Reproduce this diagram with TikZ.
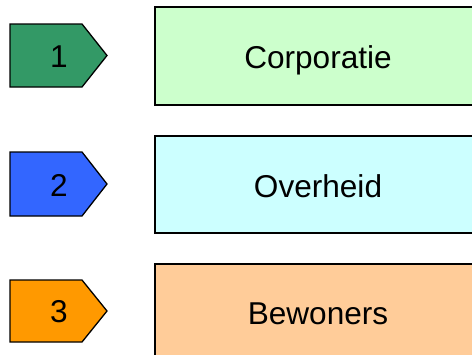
\documentclass[tikz,border=0pt]{standalone}
\usepackage{fontspec}
\setmainfont{Liberation Sans}
\begin{document}
\begin{tikzpicture}[x=1bp,y=-1bp,
  tag/.style={draw=black,line width=1.3bp,line join=miter},
  band/.style={draw=black,line width=1.3bp},
  label/.style={font=\fontsize{31.7}{34}\selectfont,text=black,inner sep=0pt,anchor=base}]
\definecolor{tagone}{HTML}{339966}
\definecolor{tagtwo}{HTML}{3366FF}
\definecolor{tagthree}{HTML}{FF9900}
\definecolor{bandone}{HTML}{CCFFCC}
\definecolor{bandtwo}{HTML}{CCFFFF}
\definecolor{bandthree}{HTML}{FFCC99}
\clip (0,0) rectangle (472,354);
\fill[white] (0,0) rectangle (472,354);
% numbered arrow tags
\draw[tag,fill=tagone]   (10,24)  -- (82,24)  -- (107,55.5) -- (82,87)  -- (10,87)  -- cycle;
\draw[tag,fill=tagtwo]   (10,152) -- (82,152) -- (107,184)  -- (82,216) -- (10,216) -- cycle;
\draw[tag,fill=tagthree] (10,280) -- (82,280) -- (107,311)  -- (82,342) -- (10,342) -- cycle;
\node[label] (n1) at (59,67)  {1};
\node[label] (n2) at (59,196) {2};
\node[label] (n3) at (59,322) {3};
% bands running off the right edge
\draw[band,fill=bandone]   (155,7)   rectangle (490,105);
\draw[band,fill=bandtwo]   (155,136) rectangle (490,233);
\draw[band,fill=bandthree] (155,264) rectangle (490,380);
\node[label] (b1) at (318,68)  {Corporatie};
\node[label] (b2) at (318,197) {Overheid};
\node[label] (b3) at (318,324) {Bewoners};
\end{tikzpicture}
\end{document}
